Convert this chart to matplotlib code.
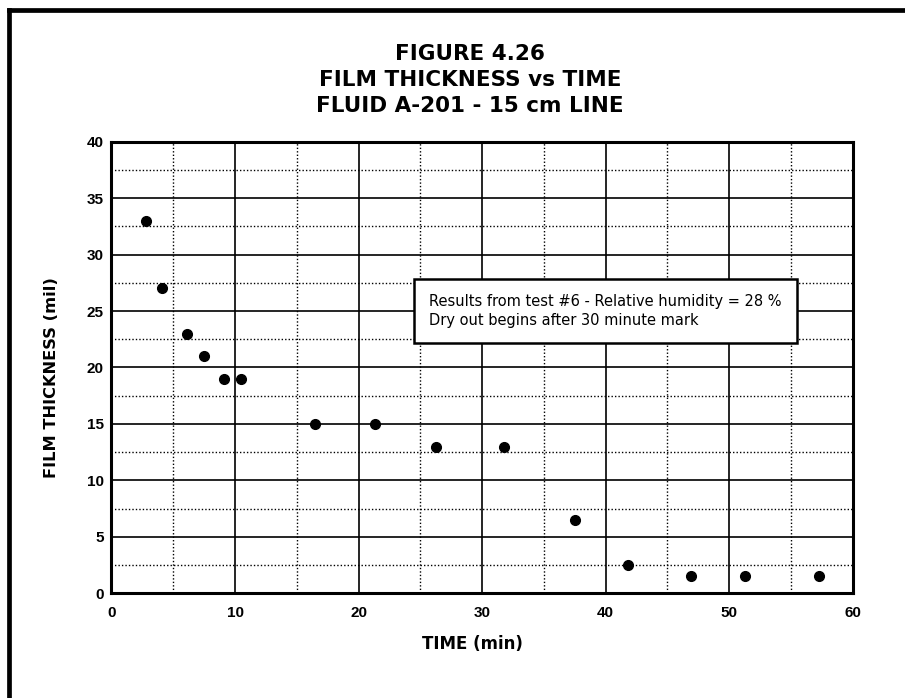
import matplotlib.pyplot as plt
from matplotlib.lines import Line2D
from matplotlib.ticker import MultipleLocator

# dados
tempo = [2.8, 4.1, 6.1, 7.5, 9.1, 10.5, 16.5, 21.3, 26.3, 31.8, 37.5, 41.8, 46.9, 51.3, 57.3]
espessura = [33, 27, 23, 21, 19, 19, 15, 15, 13, 13, 6.5, 2.5, 1.5, 1.5, 1.5]

titulo = "FIGURE 4.26\nFILM THICKNESS vs TIME\nFLUID A-201 - 15 cm LINE"
nota = "Results from test #6 - Relative humidity = 28 %\nDry out begins after 30 minute mark"
rotulo_x = "TIME (min)"
rotulo_y = "FILM THICKNESS (mil)"

plt.rcParams['font.family'] = ['DejaVu Sans']
fonte_eixos = ['Liberation Sans', 'DejaVu Sans']

fig = plt.figure(figsize=(9.05, 6.98), dpi=100)
ax = fig.add_axes([0.1232, 0.150, 0.8190, 0.647])

ax.plot(tempo, espessura, 'o', color='black', ms=7, zorder=5)

ax.set_xlim(0, 60)
ax.set_ylim(0, 40)
ax.xaxis.set_major_locator(MultipleLocator(10))
ax.xaxis.set_minor_locator(MultipleLocator(5))
ax.yaxis.set_major_locator(MultipleLocator(5))
ax.yaxis.set_minor_locator(MultipleLocator(2.5))

# grade: principal contínua, secundária pontilhada
ax.grid(which='major', color='black', linestyle='-', linewidth=1.2)
ax.grid(which='minor', color='black', linestyle=(0, (1, 1.5)), linewidth=1.0)
ax.tick_params(axis='y', which='both', length=0, pad=5.5)
ax.tick_params(axis='x', which='both', length=0, pad=9)
for lbl in ax.get_xticklabels() + ax.get_yticklabels():
    lbl.set_fontweight('bold')
    lbl.set_fontsize(11)
    lbl.set_family(fonte_eixos)
for sp in ax.spines.values():
    sp.set_linewidth(2.2)

# rótulos posicionados na figura
fig.text(472.5 / 905, 1 - 644 / 698, rotulo_x, ha='center', va='center', fontsize=12, fontweight='bold')
fig.text(52 / 905, 1 - 378 / 698, rotulo_y, ha='center', va='center', rotation=90,
         fontsize=11.7, fontweight='bold')

fig.text(470 / 905, 1 - 80 / 698, titulo, ha='center', va='center', fontsize=15.5, fontweight='bold',
         linespacing=1.4)

ax.text(0.4284, 0.625, nota, transform=ax.transAxes, ha='left', va='center', fontsize=10.5,
        linespacing=1.35, zorder=6,
        bbox=dict(boxstyle='square,pad=1.05', facecolor='white', edgecolor='black', linewidth=1.8))

# moldura da página
fig.add_artist(Line2D([0.0099, 1.0], [0.9857, 0.9857], color='black', linewidth=3.4, transform=fig.transFigure))
fig.add_artist(Line2D([0.0099, 0.0099], [0.0, 0.9857], color='black', linewidth=3.4, transform=fig.transFigure))

fig.savefig("out.png", dpi=100)
